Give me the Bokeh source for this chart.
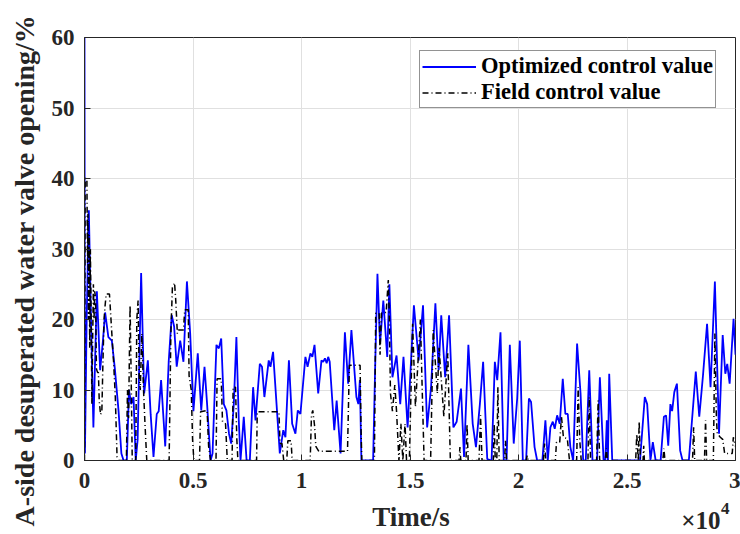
import numpy as np
from bokeh.plotting import figure
from bokeh.layouts import column, row
from bokeh.models import Label, FixedTicker, Range1d
from bokeh.embed import file_html
from bokeh.resources import INLINE

# ---- data (time in units of 1e4 s, valve opening in %) ----
opt_t = [0.000, 0.002, 0.010, 0.020, 0.030, 0.041, 0.057, 0.072, 0.085, 0.095,
         0.110, 0.126, 0.140, 0.157, 0.170, 0.180, 0.195, 0.205, 0.215, 0.226,
         0.236, 0.245, 0.261, 0.275, 0.292, 0.305, 0.318, 0.333, 0.342, 0.353,
         0.364, 0.372, 0.388, 0.402, 0.413, 0.425, 0.441, 0.456, 0.472, 0.487,
         0.502, 0.522, 0.538, 0.553, 0.565, 0.581, 0.590, 0.608, 0.619, 0.630,
         0.642, 0.654, 0.666, 0.676, 0.688, 0.700, 0.711, 0.719, 0.734, 0.747,
         0.762, 0.777, 0.788, 0.808, 0.818, 0.829, 0.849, 0.857, 0.869, 0.885,
         0.900, 0.916, 0.926, 0.942, 0.957, 0.972, 0.983, 0.995, 1.018, 1.028,
         1.041, 1.050, 1.060, 1.077, 1.092, 1.100, 1.108, 1.116, 1.123, 1.130,
         1.151, 1.162, 1.180, 1.200, 1.215, 1.230, 1.253, 1.262, 1.269, 1.276,
         1.330, 1.340, 1.350, 1.362, 1.377, 1.395, 1.405, 1.419, 1.438, 1.455,
         1.470, 1.489, 1.518, 1.540, 1.560, 1.579, 1.597, 1.617, 1.632, 1.644,
         1.662, 1.680, 1.700, 1.715, 1.735, 1.749, 1.769, 1.789, 1.804, 1.822,
         1.837, 1.856, 1.876, 1.891, 1.902, 1.917, 1.932, 1.945, 1.960, 1.978,
         1.994, 2.006, 2.020, 2.035, 2.048, 2.058, 2.074, 2.086, 2.110, 2.124,
         2.135, 2.147, 2.158, 2.167, 2.178, 2.190, 2.204, 2.216, 2.227, 2.239,
         2.252, 2.270, 2.286, 2.298, 2.310, 2.326, 2.341, 2.362, 2.375, 2.392,
         2.400, 2.407, 2.412, 2.418, 2.432, 2.560, 2.582, 2.593, 2.608, 2.619,
         2.632, 2.655, 2.670, 2.680, 2.690, 2.700, 2.708, 2.718, 2.730, 2.745,
         2.756, 2.785, 2.799, 2.817, 2.833, 2.850, 2.869, 2.885, 2.905, 2.924,
         2.941, 2.953, 2.962, 2.973, 2.991, 3.000]
opt_v = [60.0, 1.0, 20.0, 35.5, 20.0, 4.7, 24.0, 12.8, 17.0, 21.0,
         17.5, 17.0, 13.0, 7.0, 1.0, 0.0, 0.0, 10.0, 8.0, 9.0,
         0.0, 3.0, 26.6, 9.5, 14.2, 6.5, 0.5, 6.6, 7.0, 11.4,
         6.0, 2.0, 14.0, 20.6, 19.0, 13.3, 17.0, 14.0, 25.4, 18.0,
         7.0, 15.2, 7.1, 13.3, 8.0, 0.0, 1.0, 16.4, 15.9, 17.3,
         8.0, 7.1, 3.8, 2.4, 8.0, 17.5, 5.7, 0.0, 6.2, 0.0,
         0.0, 10.4, 5.7, 13.7, 13.3, 9.0, 14.2, 13.3, 15.4, 8.0,
         1.0, 4.3, 3.3, 14.2, 5.2, 3.8, 7.1, 6.6, 14.7, 13.3,
         15.2, 14.7, 16.4, 9.5, 14.2, 14.0, 14.5, 13.8, 14.7, 14.0,
         4.3, 8.5, 1.0, 18.2, 10.9, 18.5, 9.0, 8.0, 11.4, 0.0,
         0.0, 14.0, 26.5, 16.6, 22.7, 14.7, 25.0, 11.8, 14.9, 8.0,
         14.7, 4.7, 22.0, 14.2, 22.0, 4.7, 10.4, 22.3, 12.8, 20.6,
         11.8, 20.6, 4.7, 5.5, 10.2, 0.5, 16.4, 5.2, 1.9, 8.0,
         14.0, 0.2, 0.0, 14.0, 11.4, 18.2, 0.0, 0.0, 16.4, 2.4,
         8.8, 17.0, 0.0, 0.0, 8.8, 8.3, 1.9, 0.0, 0.0, 5.7,
         0.0, 4.7, 5.5, 4.5, 6.4, 5.2, 11.6, 6.6, 6.6, 1.9,
         0.0, 16.6, 9.5, 0.0, 0.0, 12.8, 0.0, 0.0, 11.8, 0.0,
         0.0, 5.7, 0.0, 12.3, 0.0, 0.0, 9.0, 8.0, 0.0, 2.6,
         0.0, 0.0, 6.2, 6.4, 2.1, 8.0, 7.0, 9.7, 10.9, 1.4,
         0.0, 0.0, 5.5, 12.6, 6.2, 12.0, 19.4, 10.4, 25.4, 3.8,
         17.8, 12.3, 13.7, 10.9, 20.1, 15.0]

field_t = [0.000, 0.003, 0.011, 0.014, 0.016, 0.018, 0.021, 0.024, 0.027, 0.030,
           0.034, 0.038, 0.041, 0.044, 0.047, 0.051, 0.055, 0.060, 0.064, 0.068,
           0.074, 0.080, 0.085, 0.090, 0.095, 0.100, 0.115, 0.126, 0.134, 0.142,
           0.150, 0.158, 0.193, 0.198, 0.203, 0.210, 0.215, 0.220, 0.236, 0.241,
           0.247, 0.252, 0.257, 0.264, 0.272, 0.279, 0.287, 0.390, 0.398, 0.405,
           0.415, 0.420, 0.428, 0.433, 0.456, 0.462, 0.478, 0.482, 0.492, 0.498,
           0.504, 0.530, 0.535, 0.565, 0.572, 0.581, 0.606, 0.611, 0.630, 0.636,
           0.650, 0.658, 0.680, 0.685, 0.696, 0.702, 0.707, 0.793, 0.796, 0.896,
           0.901, 0.910, 0.918, 0.932, 0.937, 0.952, 0.957, 1.040, 1.046, 1.052,
           1.060, 1.066, 1.080, 1.212, 1.218, 1.221, 1.270, 1.274, 1.278, 1.336,
           1.342, 1.358, 1.362, 1.368, 1.390, 1.400, 1.405, 1.410, 1.419, 1.430,
           1.438, 1.449, 1.458, 1.467, 1.477, 1.484, 1.497, 1.512, 1.525, 1.548,
           1.558, 1.565, 1.595, 1.607, 1.626, 1.634, 1.656, 1.674, 1.686, 1.726,
           1.730, 1.734, 1.758, 1.763, 1.768, 1.818, 1.825, 1.832, 1.884, 1.888,
           1.893, 1.900, 1.905, 1.911, 1.936, 1.940, 1.945, 2.035, 2.040, 2.045,
           2.115, 2.120, 2.126, 2.170, 2.175, 2.190, 2.198, 2.207, 2.225, 2.235,
           2.268, 2.275, 2.282, 2.289, 2.320, 2.326, 2.332, 2.360, 2.367, 2.374,
           2.400, 2.405, 2.410, 2.540, 2.545, 2.552, 2.556, 2.562, 2.574, 2.577,
           2.580, 2.665, 2.670, 2.675, 2.802, 2.807, 2.812, 2.857, 2.862, 2.867,
           2.898, 2.905, 2.912, 2.916, 2.930, 2.941, 2.950, 2.985, 2.990, 3.000]
field_v = [0.0, 40.0, 40.0, 28.0, 35.0, 20.0, 32.0, 16.0, 30.0, 22.0,
           8.0, 18.0, 25.0, 20.0, 24.0, 23.0, 13.0, 12.5, 12.5, 8.4,
           6.5, 7.0, 14.0, 20.0, 22.0, 23.6, 23.6, 18.0, 14.0, 9.0,
           0.5, 0.0, 0.0, 10.0, 6.0, 22.0, 12.0, 0.0, 0.0, 20.0,
           22.7, 12.0, 10.0, 18.0, 10.0, 5.0, 0.0, 0.0, 18.0, 24.5,
           25.2, 23.0, 18.0, 18.5, 18.5, 21.4, 21.4, 12.0, 10.0, 3.0,
           0.0, 0.0, 6.9, 7.1, 2.0, 0.0, 0.0, 11.6, 11.6, 5.5,
           5.2, 0.0, 0.0, 10.4, 10.4, 3.0, 0.0, 0.0, 6.9, 6.9,
           2.4, 2.4, 0.0, 0.0, 2.8, 2.8, 0.0, 0.0, 6.5, 7.1,
           5.0, 2.0, 1.3, 1.3, 10.0, 13.5, 13.5, 5.0, 0.0, 0.0,
           20.9, 20.9, 15.0, 20.9, 21.0, 25.6, 20.0, 9.5, 7.0, 10.7,
           7.0, 0.0, 5.2, 0.0, 5.2, 0.0, 0.0, 19.4, 7.6, 20.0,
           8.0, 0.0, 0.0, 18.5, 9.5, 16.0, 6.2, 15.2, 0.0, 0.0,
           1.9, 0.0, 0.0, 5.2, 0.0, 0.0, 6.4, 0.0, 0.0, 5.2,
           0.0, 0.0, 10.4, 0.0, 0.0, 2.8, 0.0, 0.0, 0.7, 0.0,
           0.0, 2.4, 0.0, 0.0, 2.6, 2.6, 6.2, 3.3, 3.1, 0.0,
           0.0, 10.4, 3.0, 0.0, 0.0, 9.0, 0.0, 0.0, 8.5, 0.0,
           0.0, 1.7, 0.0, 0.0, 3.8, 0.0, 5.5, 0.0, 0.0, 2.1,
           0.0, 0.0, 1.7, 0.0, 0.0, 4.7, 0.0, 0.0, 5.7, 0.0,
           0.0, 18.0, 6.0, 3.8, 3.3, 3.0, 1.0, 1.0, 3.3, 2.0]

x_ticks = [0, 0.5, 1, 1.5, 2, 2.5, 3]
x_tick_labels = ["0", "0.5", "1", "1.5", "2", "2.5", "3"]
y_ticks = [0, 10, 20, 30, 40, 50, 60]

series_names = ["Optimized control value", "Field control value"]
x_label = "Time/s"
y_label = "A-side desuperated water valve opening/%"

FONT = "Liberation Serif"
AX = "#262626"


def strip(width, height, **kw):
    f = figure(width=width, height=height, title=None, output_backend="svg",
               toolbar_location=None, x_axis_location=None, y_axis_location=None,
               min_border_top=0, min_border_bottom=0, **kw)
    f.grid.visible = False
    f.outline_line_color = None
    f.background_fill_color = "white"
    f.border_fill_color = "white"
    return f


# ---- main plot ----
p = figure(width=694, height=500, title=None, x_range=Range1d(0, 3), y_range=Range1d(0, 60),
           output_backend="svg", toolbar_location=None,
           min_border_left=38, min_border_right=5, min_border_top=37, min_border_bottom=40)
p.background_fill_color = "white"
p.border_fill_color = "white"
p.outline_line_color = AX
p.outline_line_width = 1

p.line(opt_t, opt_v, line_color="#0000ff", line_width=1.8, legend_label=series_names[0])
p.line(field_t, field_v, line_color="black", line_width=1.5, line_dash="6 3 1 3",
       legend_label=series_names[1])

for ax in p.xaxis:
    ax.ticker = FixedTicker(ticks=x_ticks)
    ax.major_label_overrides = dict(zip(x_ticks, x_tick_labels))
for ax in p.yaxis:
    ax.ticker = FixedTicker(ticks=y_ticks)
for ax in list(p.xaxis) + list(p.yaxis):
    ax.minor_tick_line_color = None
    ax.major_tick_in = 6
    ax.major_tick_out = 0
    ax.axis_line_color = AX
    ax.major_tick_line_color = AX
    ax.major_label_text_font = FONT
    ax.major_label_text_font_style = "bold"
    ax.major_label_text_font_size = "23px"
    ax.major_label_text_color = AX
p.xaxis.major_label_standoff = 12
p.yaxis.major_label_standoff = 10

p.xgrid.ticker = FixedTicker(ticks=x_ticks)
p.ygrid.ticker = FixedTicker(ticks=y_ticks)
p.grid.grid_line_color = "#e0e0e0"
p.grid.grid_line_width = 1

lg = p.legend[0]
lg.location = (335, 352)
lg.label_text_font = FONT
lg.label_text_font_style = "bold"
lg.label_text_font_size = "22.5px"
lg.label_text_color = "black"
lg.glyph_width = 54
lg.glyph_height = 25
lg.label_height = 25
lg.label_standoff = 5
lg.spacing = 0
lg.padding = 2
lg.margin = 0
lg.border_line_color = AX
lg.border_line_width = 1
lg.background_fill_alpha = 1

# ---- strip left of the plot: y-axis title ----
ys = strip(46, 534, x_range=Range1d(0, 46), y_range=Range1d(0, 534),
           min_border_left=0, min_border_right=0)
ys.add_layout(Label(x=24, y=264, text=y_label, angle=np.pi / 2, text_align="center",
                    text_baseline="alphabetic", text_font=FONT, text_font_style="bold",
                    text_font_size="28px", text_color=AX))

# ---- strip under the plot: x-axis title and the x10^4 exponent ----
q = strip(694, 34, x_range=p.x_range, y_range=Range1d(0, 34),
          min_border_left=38, min_border_right=5)
q.add_layout(Label(x=1.505, y=18, text=x_label, text_align="center",
                   text_baseline="alphabetic", text_font=FONT, text_font_style="bold",
                   text_font_size="27px", text_color=AX))
q.add_layout(Label(x=2.931, y=14.5, text="×10", text_align="right",
                   text_baseline="alphabetic", text_font=FONT, text_font_style="bold",
                   text_font_size="25px", text_color=AX))
q.add_layout(Label(x=2.933, y=26, text="4", text_align="left",
                   text_baseline="alphabetic", text_font=FONT, text_font_style="bold",
                   text_font_size="17px", text_color=AX))

layout = row(ys, column(p, q, spacing=0), spacing=0)
open("out.html", "w").write(file_html(layout, INLINE))
